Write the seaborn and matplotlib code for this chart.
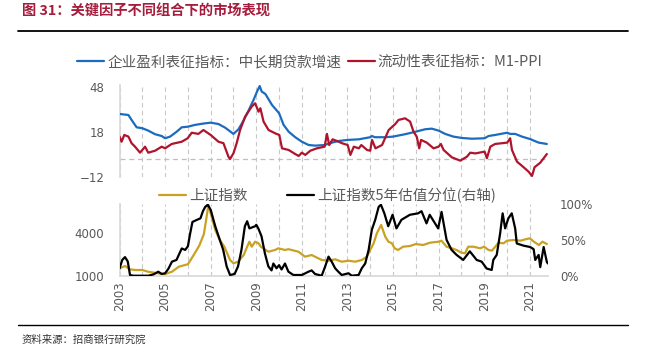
import matplotlib
matplotlib.use("Agg")
import matplotlib.pyplot as plt
from matplotlib.lines import Line2D
from matplotlib.ticker import FuncFormatter
import pandas as pd
import seaborn as sns

# ---- data (x = position on the year axis) ----
loan_t = [2003.0, 2003.39, 2003.53, 2003.75, 2004.0, 2004.26, 2004.56, 2004.85, 2005.0, 2005.22,
          2005.51, 2005.73, 2005.99, 2006.31, 2006.68, 2007.0, 2007.34, 2007.63, 2008.0, 2008.22,
          2008.44, 2008.66, 2008.88, 2009.03, 2009.15, 2009.24, 2009.4, 2009.69, 2010.0, 2010.2,
          2010.42, 2010.71, 2011.0, 2011.3, 2011.59, 2012.0, 2012.32, 2012.62, 2013.01, 2013.5,
          2014.0, 2014.08, 2014.2, 2014.67, 2015.0, 2015.53, 2016.0, 2016.41, 2016.7, 2017.0,
          2017.29, 2017.65, 2018.02, 2018.46, 2019.02, 2019.19, 2019.48, 2020.01, 2020.14, 2020.36,
          2020.66, 2021.01, 2021.39, 2021.75]
loan_growth = [30.2, 29.5, 26.2, 21.3, 20.7, 19.1, 16.7, 15.5, 14.0, 15.1,
               18.4, 21.3, 21.7, 22.9, 23.8, 24.4, 23.5, 21.1, 16.9, 20.0,
               25.7, 32.4, 39.5, 45.0, 48.8, 45.1, 43.5, 36.2, 30.7, 22.9,
               18.4, 14.7, 11.7, 9.5, 9.1, 9.5, 11.1, 12.2, 12.9, 13.3,
               14.7, 15.5, 14.7, 14.7, 15.1, 16.7, 18.4, 20.0, 20.4, 19.1,
               16.9, 15.1, 14.2, 13.7, 14.0, 15.5, 16.2, 17.7, 16.9, 16.9,
               15.1, 13.5, 11.1, 10.2]

m1ppi_t = [2003.0, 2003.09, 2003.21, 2003.39, 2003.53, 2003.68, 2003.9, 2004.12, 2004.26, 2004.56,
           2004.85, 2005.0, 2005.29, 2005.73, 2005.99, 2006.17, 2006.46, 2006.68, 2007.0, 2007.34,
           2007.56, 2007.78, 2007.85, 2008.0, 2008.14, 2008.29, 2008.51, 2008.8, 2008.95, 2009.1,
           2009.18, 2009.32, 2009.54, 2009.83, 2010.01, 2010.13, 2010.42, 2010.71, 2010.86, 2011.0,
           2011.15, 2011.37, 2011.66, 2012.0, 2012.1, 2012.2, 2012.35, 2012.54, 2012.76, 2013.01,
           2013.13, 2013.28, 2013.5, 2013.61, 2013.86, 2014.0, 2014.08, 2014.23, 2014.52, 2014.81,
           2015.1, 2015.24, 2015.53, 2015.75, 2015.9, 2016.04, 2016.15, 2016.23, 2016.48, 2016.78,
           2017.0, 2017.1, 2017.22, 2017.58, 2017.95, 2018.24, 2018.39, 2018.61, 2019.02, 2019.12,
           2019.27, 2019.48, 2019.78, 2020.01, 2020.14, 2020.22, 2020.44, 2020.73, 2020.95, 2021.1,
           2021.21, 2021.46, 2021.75]
m1ppi = [15.1, 11.7, 16.2, 15.1, 10.7, 8.4, 4.4, 8.4, 4.4, 5.7,
         8.4, 7.3, 10.2, 11.7, 14.0, 17.7, 16.9, 19.5, 16.2, 11.7,
         10.7, 1.7, 0.2, 4.0, 10.7, 19.5, 28.4, 35.1, 37.3, 31.7,
         34.0, 25.1, 19.5, 17.3, 16.2, 7.3, 6.2, 3.5, 2.2, 4.4,
         2.9, 5.7, 7.3, 8.4, 16.9, 9.5, 13.3, 12.2, 10.7, 9.5,
         2.9, 8.4, 7.3, 9.5, 6.2, 5.7, 12.9, 7.3, 9.5, 19.5,
         23.5, 26.2, 27.3, 25.1, 18.4, 15.1, 7.3, 12.9, 11.1, 7.3,
         8.4, 10.2, 6.2, 1.3, -0.9, 1.7, 4.4, 3.9, 5.1, 0.7,
         8.4, 10.2, 10.7, 11.1, 14.0, 6.2, -1.6, -5.3, -8.3, -11.1,
         -5.3, -2.3, 3.5]

sse_t = [2003.0, 2003.25, 2003.45, 2003.7, 2004.0, 2004.25, 2004.7, 2005.0, 2005.3, 2005.6,
         2006.0, 2006.2, 2006.5, 2006.7, 2006.8, 2006.9, 2007.0, 2007.2, 2007.4, 2007.6,
         2007.85, 2008.0, 2008.2, 2008.45, 2008.6, 2008.7, 2008.8, 2008.95, 2009.1, 2009.2,
         2009.53, 2009.82, 2009.97, 2010.26, 2010.41, 2010.85, 2011.14, 2011.43, 2011.87, 2012.17,
         2012.46, 2012.75, 2013.05, 2013.34, 2013.63, 2013.85, 2014.0, 2014.15, 2014.29, 2014.48,
         2014.66, 2014.8, 2014.95, 2015.07, 2015.22, 2015.44, 2015.74, 2016.0, 2016.32, 2016.62,
         2017.0, 2017.13, 2017.2, 2017.35, 2017.57, 2017.79, 2018.0, 2018.16, 2018.3, 2018.53,
         2018.82, 2019.0, 2019.19, 2019.34, 2019.49, 2019.63, 2019.85, 2020.0, 2020.29, 2020.59,
         2020.81, 2021.0, 2021.18, 2021.4, 2021.56, 2021.75]
sse = [1516, 1677, 1446, 1398, 1398, 1279, 1167, 1118, 1279, 1628,
       1800, 2300, 3100, 3900, 4886, 5933, 5353, 4188, 3491, 3023,
       2095, 1865, 1977, 2444, 3023, 3372, 3023, 3372, 3260, 3023,
       2674, 2793, 2912, 2793, 2850, 2674, 2326, 2444, 2095, 2047,
       2144, 1977, 2047, 1977, 2095, 2326, 2793, 3260, 3958, 4537,
       3721, 3372, 3260, 2912, 2793, 3023, 3070, 3209, 3140, 3302,
       3372, 3442, 3302, 3023, 2912, 2793, 2605, 2560, 3023, 3023,
       2912, 3023, 2793, 2750, 3023, 3302, 3260, 3442, 3491, 3442,
       3540, 3609, 3372, 3140, 3372, 3209]

pct_t = [2003.0, 2003.12, 2003.24, 2003.36, 2003.46, 2003.6, 2004.27, 2004.5, 2004.7, 2004.85,
         2005.0, 2005.15, 2005.3, 2005.5, 2005.73, 2005.88, 2006.0, 2006.1, 2006.2, 2006.4,
         2006.55, 2006.66, 2006.76, 2006.87, 2007.0, 2007.2, 2007.4, 2007.55, 2007.7, 2007.85,
         2008.05, 2008.2, 2008.35, 2008.5, 2008.6, 2008.7, 2008.95, 2009.0, 2009.09, 2009.23,
         2009.38, 2009.53, 2009.67, 2009.75, 2009.89, 2010.0, 2010.11, 2010.26, 2010.41, 2010.63,
         2011.0, 2011.29, 2011.43, 2011.58, 2011.87, 2012.02, 2012.17, 2012.31, 2012.46, 2012.6,
         2012.75, 2013.05, 2013.19, 2013.49, 2013.63, 2013.78, 2013.93, 2014.07, 2014.22, 2014.37,
         2014.47, 2014.62, 2014.79, 2014.98, 2015.15, 2015.37, 2015.74, 2016.1, 2016.25, 2016.47,
         2016.61, 2016.98, 2017.13, 2017.35, 2017.57, 2017.79, 2018.08, 2018.37, 2018.67, 2018.89,
         2019.11, 2019.33, 2019.4, 2019.55, 2019.7, 2019.81, 2019.92, 2020.06, 2020.21, 2020.36,
         2020.43, 2020.72, 2021.02, 2021.17, 2021.24, 2021.39, 2021.46, 2021.61, 2021.75, 2021.8]
sse_pct = [10, 22, 26, 20, 1, 0, 0, 2, 5.6, 2.4,
           3.4, 10, 19.6, 22, 38, 36, 41, 59, 75, 78,
           80, 90, 96, 99, 92, 69, 50, 36, 13, 1,
           2.4, 13, 36, 69, 76, 66, 69, 71, 66, 55,
           31, 13, 7.4, 17, 10.4, 14.7, 8.7, 17, 5.6, 1,
           1, 5.6, 7.4, 2.4, 0, 12.6, 26.6, 19.6, 10.4, 5.6,
           1, 3.4, 0, 1, 10.4, 17, 36, 64, 78, 96,
           99, 87, 69, 85, 66, 78, 85, 87, 90, 73,
           85, 66, 89, 50, 36, 29, 22, 34, 22, 19.6,
           10, 8, 22, 29, 59, 87, 66, 80, 87, 66,
           45, 42, 40, 37, 22, 29, 12, 40, 19, 17]

years = list(range(2003, 2022))
year_labels = [str(y) if (y - 2003) % 2 == 0 else "" for y in years]

legend_top = ["企业盈利表征指标：中长期贷款增速", "流动性表征指标：M1-PPI"]
legend_bottom = ["上证指数", "上证指数5年估值分位(右轴)"]
title = "图 31：关键因子不同组合下的市场表现"
source = "资料来源：招商银行研究院"

# ---- style ----
sns.set_theme(style="white")
plt.rcParams["font.family"] = ["Noto Sans CJK SC", "DejaVu Sans"]

BLUE = "#1b6cc0"
RED = "#b0142d"
GOLD = "#c9a223"
BLACK = "#000000"
GRID = "#c8c8c8"
TICK = "#595959"
NUM_FONT = {"family": "DejaVu Sans", "size": 8.5}

fig = plt.figure(figsize=(6.45, 3.49), dpi=100)
ax1 = fig.add_axes([0.1853, 0.4920, 0.6643, 0.2645])
ax2 = fig.add_axes([0.1853, 0.2100, 0.6643, 0.2054])
ax3 = ax2.twinx()

df_loan = pd.DataFrame({"t": loan_t, "v": loan_growth})
df_m1 = pd.DataFrame({"t": m1ppi_t, "v": m1ppi})
df_sse = pd.DataFrame({"t": sse_t, "v": sse})
df_pct = pd.DataFrame({"t": pct_t, "v": sse_pct})

sns.lineplot(data=df_loan, x="t", y="v", ax=ax1, color=BLUE, lw=1.6, estimator=None, legend=False, zorder=3)
sns.lineplot(data=df_m1, x="t", y="v", ax=ax1, color=RED, lw=1.6, estimator=None, legend=False, zorder=4)
sns.lineplot(data=df_sse, x="t", y="v", ax=ax2, color=GOLD, lw=1.6, estimator=None, legend=False, zorder=3)
sns.lineplot(data=df_pct, x="t", y="v", ax=ax3, color=BLACK, lw=1.6, estimator=None, legend=False, zorder=4)

x_range = (2003.0, 2021.8)
for ax in (ax1, ax2, ax3):
    ax.set_xlim(*x_range)
    ax.set_xlabel("")
    ax.set_ylabel("")
    ax.set_xticks(years)
    ax.tick_params(length=0)

# top panel
ax1.set_ylim(-12, 49.5)
ax1.set_yticks([-12, 18, 48])
ax1.set_xticklabels([])
ax1.grid(axis="x", color=GRID, ls=(0, (4, 3)), lw=0.8)
ax1.axhline(0, color="#bfbfbf", ls=(0, (4, 3)), lw=0.9, zorder=1)
for s in ("top", "right", "bottom"):
    ax1.spines[s].set_visible(False)
ax1.spines["left"].set_color("#d9d9d9")
ax1.tick_params(axis="y", pad=11, labelcolor=TICK)
for lab in ax1.get_yticklabels():
    lab.set_fontproperties(NUM_FONT)

# bottom panel
ax2.set_ylim(1000, 6000)
ax2.set_yticks([1000, 4000])
ax2.grid(axis="x", color=GRID, ls=(0, (4, 3)), lw=0.8)
for s in ("top", "right"):
    ax2.spines[s].set_visible(False)
ax2.spines["left"].set_color("#d9d9d9")
ax2.spines["bottom"].set_color("#d9d9d9")
ax2.set_xticklabels(year_labels, rotation=90)
ax2.tick_params(axis="y", pad=11, labelcolor=TICK)
ax2.tick_params(axis="x", pad=4, labelcolor=TICK)
for lab in ax2.get_yticklabels() + ax2.get_xticklabels():
    lab.set_fontproperties(NUM_FONT)

ax3.set_ylim(0, 100)
ax3.set_yticks([0, 50, 100])
ax3.yaxis.set_major_formatter(FuncFormatter(lambda v, _: f"{v:.0f}%"))
for s in ax3.spines.values():
    s.set_visible(False)
ax3.tick_params(axis="y", pad=8.5, labelcolor=TICK)
for lab in ax3.get_yticklabels():
    lab.set_fontproperties(NUM_FONT)
ax3.grid(False)

# legends
fig.legend(handles=[ax1.lines[0], ax1.lines[1]], labels=legend_top, loc="center",
           bbox_to_anchor=(0.4806, 0.8223), ncol=2, frameon=False, fontsize=10.5,
           handlelength=1.85, handletextpad=0.2, columnspacing=0.45, labelcolor=TICK)
fig.legend(handles=[ax2.lines[0], ax3.lines[0]], labels=legend_bottom, loc="center",
           bbox_to_anchor=(0.5078, 0.4413), ncol=2, frameon=False, fontsize=10.5,
           handlelength=1.85, handletextpad=0.2, columnspacing=2.7, labelcolor=TICK)

# header / footer
fig.text(0.034, 0.9656, title, fontsize=10.3, fontweight="bold", color="#a61c3c", va="center")
fig.add_artist(Line2D([18 / 645, 628 / 645], [1 - 31 / 349] * 2, color="black", lw=1.3))
fig.add_artist(Line2D([18 / 645, 628 / 645], [1 - 325 / 349] * 2, color="black", lw=1.0))
fig.text(0.034, 1 - 340 / 349, source, fontsize=7.5, color="#333333", va="center")

fig.savefig("out.png", dpi=100)
